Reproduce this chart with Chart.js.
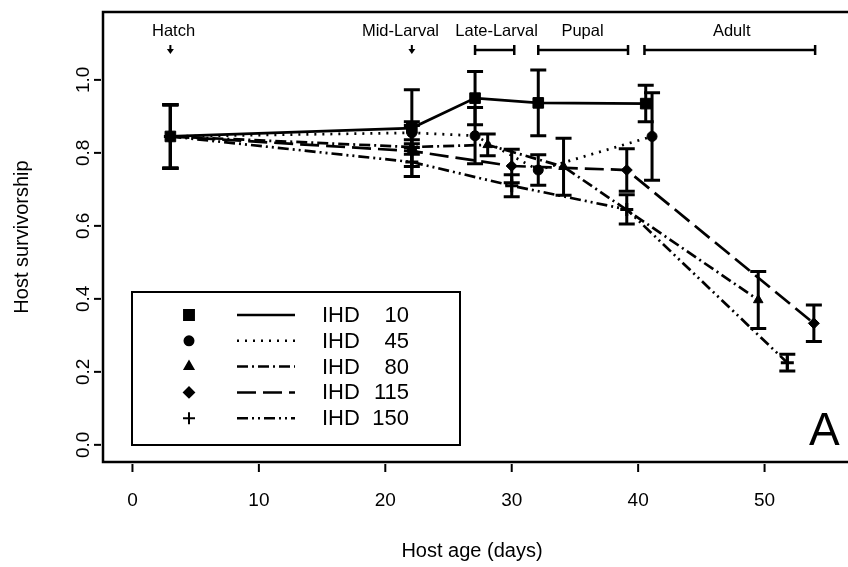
<!DOCTYPE html>
<html>
<head>
<meta charset="utf-8">
<script src="https://cdn.jsdelivr.net/npm/chart.js@4.4.0/dist/chart.umd.min.js"></script>
<style>
  html, body { margin: 0; padding: 0; background: #fff; overflow: hidden; }
  canvas { display: block; }
</style>
</head>
<body>
<canvas id="survChart" width="848" height="567"></canvas>
<script>
// values
const seriesNames = ['IHD   10', 'IHD   45', 'IHD   80', 'IHD 115', 'IHD 150'];

const ihd10Days = [3, 22.1, 27.1, 32.1, 40.6];
const ihd10Surv = [0.845, 0.868, 0.95, 0.937, 0.935];
const ihd10Err  = [0.087, 0.105, 0.073, 0.09, 0.05];

const ihd45Days = [3, 22.1, 27.1, 32.1, 41.1];
const ihd45Surv = [0.845, 0.855, 0.847, 0.753, 0.845];
const ihd45Err  = [0.087, 0.03, 0.077, 0.042, 0.12];

const ihd80Days = [3, 22.1, 28.1, 34.1, 49.5];
const ihd80Surv = [0.845, 0.816, 0.822, 0.762, 0.397];
const ihd80Err  = [0.087, 0.02, 0.03, 0.078, 0.078];

const ihd115Days = [3, 22.1, 30.0, 39.1, 53.9];
const ihd115Surv = [0.845, 0.805, 0.764, 0.753, 0.333];
const ihd115Err  = [0.087, 0.07, 0.046, 0.058, 0.05];

const ihd150Days = [3, 22.1, 30.0, 39.1, 51.8];
const ihd150Surv = [0.845, 0.775, 0.71, 0.645, 0.225];
const ihd150Err  = [0.087, 0.04, 0.03, 0.04, 0.023];

const xTicks = [0, 10, 20, 30, 40, 50];
const yTicks = [0, 0.2, 0.4, 0.6, 0.8, 1.0];
const yTickLabels = ['0.0', '0.2', '0.4', '0.6', '0.8', '1.0'];

// developmental stages (days)
const stageNames = ['Hatch', 'Mid-Larval', 'Late-Larval', 'Pupal', 'Adult'];
const stageLabelDay = [3.25, 21.2, 28.8, 35.6, 47.4];
const stageStart = [3, 22.1, 27.1, 32.1, 40.5];
const stageEnd   = [3, 22.1, 30.2, 39.2, 54.0];

const FONT = '"Liberation Sans", Arial, sans-serif';
const dashes = [[], [2, 6], [11, 4, 2, 4], [19, 7], [11, 4, 2, 4, 2, 4]];
const markers = ['rect', 'circle', 'triangle', 'rectRot', 'cross'];
const markerSize = [7.5, 5, 5.5, 5.5, 6.5];

const allDays = [ihd10Days, ihd45Days, ihd80Days, ihd115Days, ihd150Days];
const allSurv = [ihd10Surv, ihd45Surv, ihd80Surv, ihd115Surv, ihd150Surv];
const allErr  = [ihd10Err, ihd45Err, ihd80Err, ihd115Err, ihd150Err];

const datasets = seriesNames.map((name, i) => ({
  label: name,
  data: allDays[i].map((d, j) => ({ x: d, y: allSurv[i][j] })),
  borderColor: '#000',
  backgroundColor: '#000',
  borderWidth: 2.7,
  borderDash: dashes[i],
  pointStyle: markers[i],
  pointRadius: markerSize[i],
  pointBorderWidth: i === 4 ? 3 : 1,
  pointBackgroundColor: '#000',
  pointBorderColor: '#000',
  tension: 0,
  fill: false
}));

const errorBars = {
  id: 'errorBars',
  afterDatasetsDraw(chart) {
    const { ctx, scales: { x, y } } = chart;
    ctx.save();
    ctx.strokeStyle = '#000';
    ctx.lineWidth = 3;
    ctx.setLineDash([]);
    allDays.forEach((days, i) => {
      days.forEach((d, j) => {
        const px = x.getPixelForValue(d);
        const top = y.getPixelForValue(allSurv[i][j] + allErr[i][j]);
        const bot = y.getPixelForValue(allSurv[i][j] - allErr[i][j]);
        ctx.beginPath();
        ctx.moveTo(px, top); ctx.lineTo(px, bot);
        ctx.moveTo(px - 8, top); ctx.lineTo(px + 8, top);
        ctx.moveTo(px - 8, bot); ctx.lineTo(px + 8, bot);
        ctx.stroke();
      });
    });
    ctx.restore();
  }
};

const frame = {
  id: 'frame',
  afterDraw(chart) {
    const { ctx, chartArea: a, scales: { x, y } } = chart;
    ctx.save();
    ctx.strokeStyle = '#000';
    ctx.fillStyle = '#000';
    ctx.setLineDash([]);

    // box (open at the cropped right side)
    ctx.lineWidth = 2.5;
    ctx.beginPath();
    ctx.moveTo(a.right + 5, a.top);
    ctx.lineTo(a.left, a.top);
    ctx.lineTo(a.left, a.bottom);
    ctx.lineTo(a.right + 5, a.bottom);
    ctx.stroke();

    // x axis
    ctx.lineWidth = 2;
    ctx.font = '19px ' + FONT;
    ctx.textAlign = 'center';
    ctx.textBaseline = 'middle';
    xTicks.forEach(t => {
      const px = x.getPixelForValue(t);
      ctx.beginPath();
      ctx.moveTo(px, a.bottom + 2); ctx.lineTo(px, a.bottom + 10);
      ctx.stroke();
      ctx.fillText(String(t), px, 501);
    });
    ctx.font = '20px ' + FONT;
    ctx.fillText('Host age (days)', 472, 551);

    // y axis
    ctx.font = '19px ' + FONT;
    yTicks.forEach((t, i) => {
      const py = y.getPixelForValue(t);
      ctx.beginPath();
      ctx.moveTo(a.left - 2, py); ctx.lineTo(a.left - 9, py);
      ctx.stroke();
      ctx.save();
      ctx.translate(84, py);
      ctx.rotate(-Math.PI / 2);
      ctx.fillText(yTickLabels[i], 0, 0);
      ctx.restore();
    });
    ctx.save();
    ctx.font = '20px ' + FONT;
    ctx.translate(22, 237);
    ctx.rotate(-Math.PI / 2);
    ctx.fillText('Host survivorship', 0, 0);
    ctx.restore();

    // stage annotations
    ctx.font = '16.5px ' + FONT;
    stageNames.forEach((s, i) => {
      ctx.fillText(s, x.getPixelForValue(stageLabelDay[i]), 31);
      const x0 = x.getPixelForValue(stageStart[i]);
      const x1 = x.getPixelForValue(stageEnd[i]);
      if (stageStart[i] === stageEnd[i]) {
        ctx.lineWidth = 2;
        ctx.beginPath();
        ctx.moveTo(x0, 45); ctx.lineTo(x0, 50);
        ctx.stroke();
        ctx.beginPath();
        ctx.moveTo(x0 - 3.5, 49); ctx.lineTo(x0 + 3.5, 49); ctx.lineTo(x0, 54);
        ctx.closePath();
        ctx.fill();
      } else {
        ctx.lineWidth = 2.5;
        ctx.beginPath();
        ctx.moveTo(x0, 50); ctx.lineTo(x1, 50);
        ctx.moveTo(x0, 45); ctx.lineTo(x0, 55);
        ctx.moveTo(x1, 45); ctx.lineTo(x1, 55);
        ctx.stroke();
      }
    });

    // panel letter
    ctx.font = '46px ' + FONT;
    ctx.textAlign = 'left';
    ctx.textBaseline = 'alphabetic';
    ctx.fillText('A', 809, 445);

    // legend
    ctx.lineWidth = 2;
    ctx.strokeRect(132, 292, 328, 153);
    ctx.font = '22px ' + FONT;
    ctx.textBaseline = 'middle';
    seriesNames.forEach((name, i) => {
      const ry = 315 + i * 25.8;
      const ds = chart.data.datasets[i];
      Chart.helpers.drawPoint(ctx, {
        pointStyle: markers[i],
        radius: markerSize[i] - 0.5,
        borderWidth: i === 4 ? 3 : 1,
        rotation: 0
      }, 189, ry);
      ctx.save();
      ctx.lineWidth = 2.5;
      ctx.setLineDash(ds.borderDash);
      ctx.beginPath();
      ctx.moveTo(237, ry); ctx.lineTo(295, ry);
      ctx.stroke();
      ctx.restore();
      const parts = name.split(/\s+/);
      ctx.textAlign = 'left';
      ctx.fillText(parts[0], 322, ry + 1);
      ctx.textAlign = 'right';
      ctx.fillText(parts[1], 409, ry + 1);
    });
    ctx.restore();
  }
};

new Chart(document.getElementById('survChart').getContext('2d'), {
  type: 'line',
  data: { datasets },
  options: {
    responsive: false,
    devicePixelRatio: 1,
    animation: false,
    layout: { autoPadding: false, padding: { left: 103, top: 12, right: 0, bottom: 105 } },
    plugins: { legend: { display: false }, tooltip: { enabled: false } },
    scales: {
      x: { type: 'linear', min: -2.33, max: 56.6, display: false },
      y: { type: 'linear', min: -0.047, max: 1.186, display: false }
    }
  },
  plugins: [errorBars, frame]
});
</script>
</body>
</html>
